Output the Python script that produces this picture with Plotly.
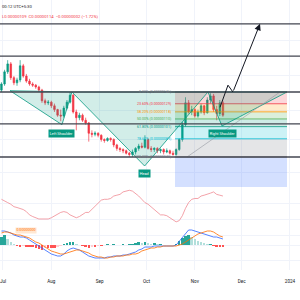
import math
import pandas as pd
import plotly.graph_objects as go

# ---------------- data (prices in units of 1e-8) ----------------
CANDLE_START = "2023-06-30"
CANDLE_STEP_DAYS = 2
opens = [149,159,181,197,170,161,166,193,173,164, 159,157,154,149,133,130,131,126,121,114,
         113,123,131,141,118,111,114,108,105,94, 93,94,92,88,87,89,88,83,80,79,
         78,76,75,77,80,82,81,88,80,79, 80,78,79,77,78,76,75,79,88,103,
         130,118,121,113,118,126,117,134,140,121, 116,130]
highs = [162,185,205,201,173,170,205,197,177,168, 162,159,156,151,136,134,133,129,122,121,
         126,134,146,143,121,117,116,111,106,97, 96,95,93,89,90,90,89,84,81,80,
         79,77,79,81,84,85,92,89,82,81, 81,80,80,80,79,78,80,89,106,138,
         134,126,123,121,129,127,138,144,143,126, 134,133]
lows = [146,156,177,166,157,156,162,170,161,156, 154,151,146,130,127,127,123,118,112,107,
        111,121,129,116,97,108,106,103,86,90, 91,90,86,85,86,86,81,78,77,76,
        75,73,73,75,78,80,80,79,77,77, 76,76,75,76,75,74,74,78,86,101,
        116,114,111,111,116,114,116,129,118,108, 113,112]
closes = [159,181,197,170,161,166,193,173,164,159, 157,154,149,133,130,131,126,121,114,113,
          123,131,141,118,111,114,108,105,94,93, 94,92,88,87,89,88,83,80,79,78,
          76,75,77,80,82,81,88,80,79,80, 78,79,77,78,76,75,79,88,103,130,
          118,121,113,118,126,117,134,140,121,116, 130,114]
osc = [65,62.5,61,59,56,55,54,52.5,50,46, 44,42.5,41,41,41,41,42.5,45,47.5,49,
       50,49,46,44,42.5,44,46,49,49,52.5, 56,60,64,65,65,66,69,70,71,74,
       75,76,75,72.5,69,65,61,59,56,52.5, 49,46,46,45,42.5,40,37.5,39,45,54,
       61,65,66,66,69,70,71,72.5,74,71, 70,69]
macd = [14,14,13,12,10,9,8,8,7,5, 3,1,-1,-3,-5,-7,-9,-10,-11,-11,
        -9,-6,-4,-3,-4,-5,-7,-9,-11,-12, -13,-13,-13,-13,-12,-12,-11,-11,-11,-10,
        -10,-9,-8,-7,-5,-4,-2,-2,-2,-1, -1,-1,-1,-1,-1,-1,0,4,8,12,
        15,15,14,13,12,11,10,9,8,8, 7,6]
signal = [12,13,13,12,11,10,10,9,8,7, 5,3,2,0,-2,-4,-6,-7,-8,-9,
          -9,-8,-7,-6,-5,-5,-6,-7,-8,-10, -11,-12,-12,-13,-13,-12,-12,-11,-11,-11,
          -10,-10,-9,-9,-8,-6,-5,-4,-3,-3, -2,-2,-1,-1,-1,-1,-1,0,1,3,
          5,7,9,11,12,13,14,14,13,11, 9,8]
hist = [8,10,6,3,1,-1,-2,-1,-2,-2, -2,-3,-4,-5,-3,-3,-3,-3,-2,-1,
        1,2,3,3,1,0,-1,-2,-3,-2, -2,-1,-1,0,1,0,1,0,0,1,
        0,1,1,2,3,2,3,2,1,2, 1,1,0,0,0,0,1,4,7,9,
        10,8,6,4,3,2,1,1,-1,-2, -2,-2]

month_ticks = ["2023-07-01", "2023-08-01", "2023-09-01", "2023-10-01",
               "2023-11-01", "2023-12-01", "2024-01-01"]
month_labels = ["Jul", "Aug", "Sep", "Oct", "Nov", "Dec", "2024"]

X_VIEW = ["2023-06-29 02:00", "2024-01-07 10:00"]
PRICE_VIEW = [53.0, 389.4]
OSC_VIEW = [30, 80]
MACD_VIEW = [-25, 17]

# user drawings (date, price)
hlines = [302, 214, 146, 104, 73]
hs_dates = ["2023-07-05 12:00", "2023-08-07 19:00", "2023-08-14 05:00", "2023-09-29 19:00",
            "2023-11-09 10:00", "2023-11-18 10:00", "2023-12-30 02:00"]
hs_prices = [148, 103, 146, 66.3, 146, 101.6, 146]
hs_labels = ["Left Shoulder", "Head", "Right Shoulder"]
fib_dates = ["2023-10-19 07:00", "2023-12-30 02:00"]
fib_prices = [146, 73]
fib_ratios = [0, 0.236, 0.382, 0.5, 0.618, 0.786, 1, 1.618]
fib_colors = ["#787b86", "#f23645", "#ff9800", "#4caf50", "#089981", "#00bcd4", "#787b86", "#2962ff"]
arrow_dates = ["2023-11-17 03:00", "2023-11-22 06:00", "2023-11-25 10:00", "2023-12-12 19:00"]
arrow_prices = [124, 157, 146, 302]
trend_dates = ["2023-10-27 00:00", "2023-12-25 14:00"]
trend_prices = [73, 146]

UP = "#089981"
DN = "#f23645"
FONT = "Roboto"

dates = pd.date_range(CANDLE_START, periods=len(closes), freq=f"{CANDLE_STEP_DAYS}D")

def rgba(hexc, a):
    h = hexc.lstrip("#")
    r, g, b = int(h[0:2], 16), int(h[2:4], 16), int(h[4:6], 16)
    return f"rgba({r},{g},{b},{a})"

fig = go.Figure()

# fib bands
fp0, fp1 = fib_prices
lv = [fp0 - r * (fp0 - fp1) for r in fib_ratios]
for i in range(len(lv) - 1):
    fig.add_trace(go.Scatter(
        x=[fib_dates[0], fib_dates[1], fib_dates[1], fib_dates[0], fib_dates[0]],
        y=[lv[i], lv[i], lv[i + 1], lv[i + 1], lv[i]],
        fill="toself", fillcolor=rgba(fib_colors[i + 1], 0.2),
        line=dict(width=0), mode="lines", hoverinfo="skip", showlegend=False,
        xaxis="x", yaxis="y"))
for i in range(len(lv)):
    fig.add_trace(go.Scatter(x=fib_dates, y=[lv[i], lv[i]], mode="lines",
                             line=dict(color=fib_colors[i], width=0.8),
                             hoverinfo="skip", showlegend=False, xaxis="x", yaxis="y"))

# head & shoulders triangles
for a, b, c in [(0, 1, 2), (2, 3, 4), (4, 5, 6)]:
    fig.add_trace(go.Scatter(
        x=[hs_dates[a], hs_dates[b], hs_dates[c], hs_dates[a]],
        y=[hs_prices[a], hs_prices[b], hs_prices[c], hs_prices[a]],
        fill="toself", fillcolor=rgba(UP, 0.18), mode="lines",
        line=dict(color=UP, width=0.8), hoverinfo="skip", showlegend=False,
        xaxis="x", yaxis="y"))

# trend line
fig.add_trace(go.Scatter(x=trend_dates, y=trend_prices, mode="lines",
                         line=dict(color="#9598a1", width=0.6),
                         hoverinfo="skip", showlegend=False, xaxis="x", yaxis="y"))

# horizontal user lines
for p in hlines:
    fig.add_trace(go.Scatter(x=X_VIEW, y=[p, p], mode="lines",
                             line=dict(color="#434651", width=1.3),
                             hoverinfo="skip", showlegend=False, xaxis="x", yaxis="y"))

# candles
fig.add_trace(go.Candlestick(
    x=dates, open=opens, high=highs, low=lows, close=closes,
    increasing=dict(line=dict(color=UP, width=0.7), fillcolor=UP),
    decreasing=dict(line=dict(color=DN, width=0.7), fillcolor=DN),
    whiskerwidth=0, showlegend=False, xaxis="x", yaxis="y"))

# projection arrow
fig.add_trace(go.Scatter(x=arrow_dates[:3], y=arrow_prices[:3], mode="lines",
                         line=dict(color="#131722", width=1),
                         hoverinfo="skip", showlegend=False, xaxis="x", yaxis="y"))

# oscillator pane
fig.add_trace(go.Scatter(x=dates, y=osc, mode="lines", line=dict(color="#f08a93", width=0.8),
                         showlegend=False, xaxis="x2", yaxis="y2"))

# macd pane
hcol = []
for i, h in enumerate(hist):
    prev = hist[i - 1] if i > 0 else h
    if h >= 0:
        hcol.append("#26a69a" if h >= prev else "#b2dfdb")
    else:
        hcol.append("#ff5252" if h <= prev else "#ffcdd2")
fig.add_trace(go.Bar(x=dates, y=hist, marker=dict(color=hcol, line=dict(width=0)),
                     width=CANDLE_STEP_DAYS * 86400000 * 0.8, showlegend=False,
                     xaxis="x3", yaxis="y3"))
fig.add_trace(go.Scatter(x=dates, y=macd, mode="lines", line=dict(color="#2962ff", width=0.8),
                         showlegend=False, xaxis="x3", yaxis="y3"))
fig.add_trace(go.Scatter(x=dates, y=signal, mode="lines", line=dict(color="#ff6d00", width=0.8),
                         showlegend=False, xaxis="x3", yaxis="y3"))

L = math.log10
ann = []
# fib labels
for i in range(7):
    ann.append(dict(x=fib_dates[0], y=L(lv[i]), xref="x", yref="y", xanchor="right",
                    yanchor="middle", showarrow=False, xshift=-2,
                    text=f"{fib_ratios[i]*100:.2f}% ({lv[i]*1e-8:.8f})",
                    font=dict(size=3.6, color=fib_colors[i], family=FONT)))
# h&s labels
for idx, lab, ys in [(1, hs_labels[0], -4.5), (3, hs_labels[1], -3), (5, hs_labels[2], -3.5)]:
    ann.append(dict(x=hs_dates[idx], y=L(hs_prices[idx]), xref="x", yref="y",
                    xanchor="center", yanchor="top", yshift=ys, showarrow=False,
                    text=lab, bgcolor=UP, borderpad=0.8,
                    font=dict(size=3.8, color="white", family=FONT)))
# arrow head
ann.append(dict(x=arrow_dates[3], y=L(arrow_prices[3]), xref="x", yref="y",
                ax=arrow_dates[2], ay=L(arrow_prices[2]), axref="x", ayref="y",
                showarrow=True, arrowhead=2, arrowsize=1.3, arrowwidth=1,
                arrowcolor="#131722", text=""))
# header
ann.append(dict(x=0, y=1, xref="paper", yref="paper", xanchor="left", yanchor="top",
                yshift=-2, showarrow=False, text="00:12 UTC+5:30",
                font=dict(size=4.2, color="#131722", family=FONT)))
ann.append(dict(x=0, y=1, xref="paper", yref="paper", xanchor="left", yanchor="top",
                yshift=-11.5, showarrow=False,
                text="L0.00000109  C0.00000114  \u22120.00000002 (\u22121.72%)",
                font=dict(size=4.2, color=DN, family=FONT)))
ann.append(dict(x=0.05, y=0.232, xref="paper", yref="paper", xanchor="left",
                yanchor="middle", showarrow=False, text="0.00000000",
                bgcolor="#ffe7d2", borderpad=0.4,
                font=dict(size=3.6, color="#ff6d00", family=FONT)))

GRID = "#f0f3fa"
xcommon = dict(range=X_VIEW, type="date", showgrid=True, gridcolor=GRID, gridwidth=1,
               tickvals=month_ticks, ticktext=month_labels, zeroline=False,
               rangeslider=dict(visible=False), showline=False)

fig.update_layout(
    width=300, height=300, margin=dict(l=0, r=0, t=0, b=0),
    paper_bgcolor="white", plot_bgcolor="white", showlegend=False,
    bargap=0,
    xaxis=dict(xcommon, anchor="y", showticklabels=False),
    xaxis2=dict(xcommon, anchor="y2", matches="x", showticklabels=False),
    xaxis3=dict(xcommon, anchor="y3", matches="x", showticklabels=True, ticks="",
                ticklabelstandoff=7, ticklabeloverflow="allow",
                tickfont=dict(size=4.6, color="#131722", family=FONT)),
    yaxis=dict(domain=[1 - 187 / 300, 1], type="log", range=[L(PRICE_VIEW[0]), L(PRICE_VIEW[1])],
               showticklabels=False, showgrid=True, gridcolor=GRID,
               tickvals=[254, 175, 120, 87.5, 62], zeroline=False),
    yaxis2=dict(domain=[0.24, 1 - 187 / 300], range=OSC_VIEW, showticklabels=False,
                showgrid=True, gridcolor=GRID, tickvals=[40, 60], zeroline=False),
    yaxis3=dict(domain=[0.1, 0.24], range=MACD_VIEW, showticklabels=False,
                showgrid=True, gridcolor=GRID, tickvals=[-15, 0, 10], zeroline=False),
    annotations=ann,
)

fig.write_html("out.html")
